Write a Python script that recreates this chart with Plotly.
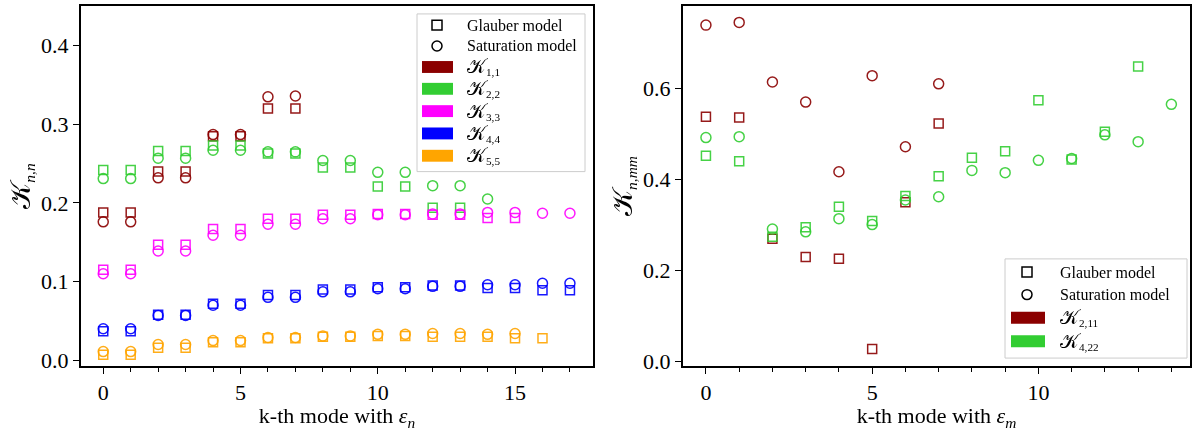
import plotly.graph_objects as go

# ---------------- data ----------------
modes_left = list(range(18))
modes_right = list(range(15))

k11_glauber = [0.188, 0.188, 0.240, 0.240, 0.285, 0.285, 0.320, 0.320]
k11_saturation = [0.176, 0.176, 0.232, 0.232, 0.287, 0.287, 0.335, 0.336]

k22_glauber = [0.242, 0.242, 0.266, 0.266, 0.273, 0.273, 0.263, 0.263,
               0.245, 0.245, 0.221, 0.221, 0.194, 0.194]
k22_saturation = [0.231, 0.231, 0.257, 0.257, 0.267, 0.267, 0.265, 0.265,
                  0.254, 0.254, 0.239, 0.239, 0.222, 0.222, 0.205]

k33_glauber = [0.115, 0.115, 0.147, 0.147, 0.167, 0.167, 0.180, 0.180,
               0.185, 0.185, 0.186, 0.186, 0.185, 0.185, 0.181, 0.181]
k33_saturation = [0.110, 0.110, 0.139, 0.139, 0.159, 0.159, 0.173, 0.173,
                  0.180, 0.180, 0.185, 0.185, 0.186, 0.186, 0.188, 0.188,
                  0.187, 0.187]

k44_glauber = [0.037, 0.037, 0.058, 0.058, 0.072, 0.072, 0.083, 0.083,
               0.090, 0.090, 0.093, 0.093, 0.095, 0.095, 0.092, 0.092,
               0.089, 0.089]
k44_saturation = [0.040, 0.040, 0.057, 0.057, 0.070, 0.070, 0.080, 0.080,
                  0.087, 0.087, 0.091, 0.091, 0.094, 0.094, 0.096, 0.096,
                  0.098, 0.098]

k55_glauber = [0.007, 0.007, 0.016, 0.016, 0.023, 0.023, 0.028, 0.028,
               0.030, 0.030, 0.031, 0.031, 0.030, 0.030, 0.030, 0.028, 0.028]
k55_saturation = [0.011, 0.011, 0.020, 0.020, 0.025, 0.025, 0.029, 0.029,
                  0.031, 0.031, 0.033, 0.033, 0.034, 0.034, 0.033, 0.034]

k211_glauber = [0.538, 0.536, 0.270, 0.230, 0.226, 0.028, 0.350, 0.523]
k211_saturation = [0.739, 0.745, 0.614, 0.570, 0.417, 0.628, 0.472, 0.610]

k422_glauber = [0.452, 0.440, 0.274, 0.295, 0.340, 0.309, 0.364, 0.407,
                0.448, 0.462, 0.574, 0.444, 0.505, 0.648]
k422_saturation = [0.492, 0.494, 0.291, 0.285, 0.314, 0.301, 0.355, 0.362,
                   0.420, 0.415, 0.442, 0.446, 0.498, 0.483, 0.565]

# calligraphic K, drawn a little larger than the surrounding text
KL = '<span style="font-size:20px">𝒦</span>'
KA = '<span style="font-size:28px">𝒦</span>'
left_labels = [KL + "<sub>1,1</sub>", KL + "<sub>2,2</sub>",
               KL + "<sub>3,3</sub>", KL + "<sub>4,4</sub>",
               KL + "<sub>5,5</sub>"]
right_labels = [KL + "<sub>2,11</sub>", KL + "<sub>4,22</sub>"]

# ---------------- styling ----------------
W, H = 1197, 431
M_L, M_R, M_T, M_B = 81, 7, 4, 64
FONT = "Liberation Serif, DejaVu Serif, serif"
colors_left = ["#8b0000", "#32cd32", "#ff00ff", "#0000ff", "#ffa500"]
colors_right = ["#8b0000", "#32cd32"]

fig = go.Figure()


def add_series(xs, glauber, saturation, color, xa, ya):
    fig.add_trace(go.Scatter(
        x=xs[:len(glauber)], y=glauber, mode="markers", xaxis=xa, yaxis=ya,
        showlegend=False, opacity=0.9,
        marker=dict(symbol="square-open", size=9, color=color,
                    line=dict(width=1.5, color=color))))
    fig.add_trace(go.Scatter(
        x=xs[:len(saturation)], y=saturation, mode="markers", xaxis=xa,
        yaxis=ya, showlegend=False, opacity=0.9,
        marker=dict(symbol="circle-open", size=10, color=color,
                    line=dict(width=1.5, color=color))))


left_series = [(k11_glauber, k11_saturation), (k22_glauber, k22_saturation),
               (k33_glauber, k33_saturation), (k44_glauber, k44_saturation),
               (k55_glauber, k55_saturation)]
for (g, s), c in zip(left_series, colors_left):
    add_series(modes_left, g, s, c, "x", "y")

right_series = [(k211_glauber, k211_saturation),
                (k422_glauber, k422_saturation)]
for (g, s), c in zip(right_series, colors_right):
    add_series(modes_right, g, s, c, "x2", "y2")

pw = W - M_L - M_R
ph = H - M_T - M_B


def px(xp):
    return (xp - M_L) / pw


def py(yp):
    return (H - M_B - yp) / ph


axis_common = dict(
    showline=True, mirror=True, linewidth=2, linecolor="black",
    ticks="outside", ticklen=6, tickwidth=1.3, tickcolor="black",
    showgrid=False, zeroline=False,
    tickfont=dict(family=FONT, size=22, color="black"),
    title_font=dict(family=FONT, size=22, color="black"),
)
minor_x = dict(dtick=1, tick0=0, ticks="outside", ticklen=3.5,
               tickwidth=1, tickcolor="black", showgrid=False)

fig.update_layout(
    width=W, height=H,
    margin=dict(l=M_L, r=M_R, t=M_T, b=M_B),
    paper_bgcolor="white", plot_bgcolor="white",
    font=dict(family=FONT, color="black"),
    xaxis=dict(domain=[0, px(593)], range=[-0.81, 17.84],
               tickvals=[0, 5, 10, 15], minor=minor_x,
               title=dict(text="k-th mode with <i>ε</i><sub><i>n</i></sub>",
                          standoff=6),
               **axis_common),
    yaxis=dict(domain=[0, 1], range=[-0.0073, 0.4505],
               tickvals=[0, 0.1, 0.2, 0.3, 0.4], tickformat=".1f",
               title=dict(text=KA + "<sub><i>n,n</i></sub>", standoff=4),
               **axis_common),
    xaxis2=dict(domain=[px(683), 1], range=[-0.69, 14.56], anchor="y2",
                tickvals=[0, 5, 10], minor=minor_x,
                title=dict(text="k-th mode with <i>ε</i><sub><i>m</i></sub>",
                           standoff=6),
                **axis_common),
    yaxis2=dict(domain=[0, 1], range=[-0.0096, 0.781], anchor="x2",
                tickvals=[0, 0.2, 0.4, 0.6], tickformat=".1f",
                title=dict(text=KA + "<sub><i>n,mm</i></sub>", standoff=4),
                **axis_common),
)

# ---------------- legends drawn in paper space ----------------
shapes = []
annotations = []
LEG_FONT = dict(family=FONT, size=16, color="black")


def legend_box(x0, x1, y0, y1, rows, patch_x0, patch_x1, mark_x, text_x,
               labels, colors):
    shapes.append(dict(type="rect", xref="paper", yref="paper",
                       x0=px(x0), x1=px(x1), y0=py(y1), y1=py(y0),
                       line=dict(color="#cccccc", width=1),
                       fillcolor="rgba(255,255,255,0.8)", layer="above"))
    half = 5
    shapes.append(dict(type="rect", xref="paper", yref="paper",
                       x0=px(mark_x - half), x1=px(mark_x + half),
                       y0=py(rows[0] + half), y1=py(rows[0] - half),
                       line=dict(color="black", width=1.5), layer="above"))
    shapes.append(dict(type="circle", xref="paper", yref="paper",
                       x0=px(mark_x - half), x1=px(mark_x + half),
                       y0=py(rows[1] + half), y1=py(rows[1] - half),
                       line=dict(color="black", width=1.5), layer="above"))
    texts = ["Glauber model", "Saturation model"] + labels
    for i, (t, r) in enumerate(zip(texts, rows)):
        annotations.append(dict(x=px(text_x), y=py(r), xref="paper",
                                yref="paper", text=t, showarrow=False,
                                xanchor="left", yanchor="middle",
                                font=LEG_FONT))
        if i >= 2:
            shapes.append(dict(type="rect", xref="paper", yref="paper",
                               x0=px(patch_x0), x1=px(patch_x1),
                               y0=py(r + 6), y1=py(r - 6),
                               line=dict(width=0), fillcolor=colors[i - 2],
                               layer="above"))


legend_box(417, 585, 12, 171, [23.3, 44.3, 65.5, 87.5, 110, 132.5, 155],
           422, 453, 437, 465, left_labels, colors_left)
legend_box(1005, 1187, 259, 359, [272.3, 295, 318.3, 342],
           1011, 1045, 1027, 1058, right_labels, colors_right)

fig.update_layout(shapes=shapes, annotations=annotations)

fig.write_html("out.html")
